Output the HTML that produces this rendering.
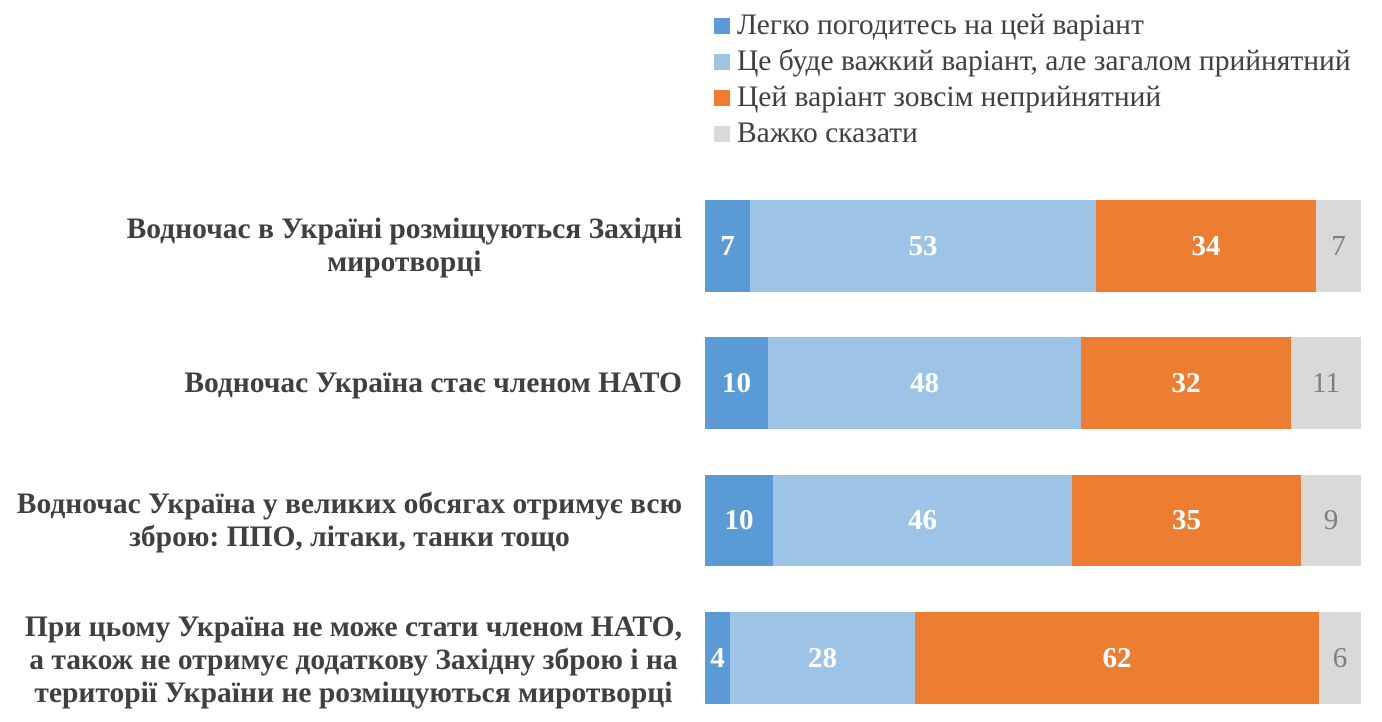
<!DOCTYPE html>
<html><head><meta charset="utf-8"><style>
body{margin:0;width:1382px;height:722px;background:#fff;position:relative;overflow:hidden;font-family:"Liberation Serif","DejaVu Serif",serif;}
.lg{position:absolute;left:714px;font-size:29.5px;color:#404040;white-space:nowrap;line-height:30px}
.lg i{display:inline-block;width:16px;height:16px;margin-right:7px;vertical-align:0px}
.seg{position:absolute;display:flex;align-items:center;justify-content:center;font-size:29px;font-weight:bold;color:#fff}
.lab{position:absolute;right:700px;text-align:center;font-size:29.5px;font-weight:bold;color:#404040;line-height:33px;white-space:nowrap}
</style></head><body>
<div class="lg" style="top:10px"><i style="background:#5B9BD5"></i>Легко погодитесь на цей варіант</div>
<div class="lg" style="top:46px"><i style="background:#9DC3E6"></i>Це буде важкий варіант, але загалом прийнятний</div>
<div class="lg" style="top:82px"><i style="background:#ED7D31"></i>Цей варіант зовсім неприйнятний</div>
<div class="lg" style="top:118px"><i style="background:#D9D9D9"></i>Важко сказати</div>

<div class="lab" style="top:213px">Водночас в Україні розміщуються Західні<br>миротворці</div>
<div class="seg" style="left:705px;width:45px;top:200px;height:92px;background:#5B9BD5">7</div>
<div class="seg" style="left:750px;width:346px;top:200px;height:92px;background:#9DC3E6">53</div>
<div class="seg" style="left:1096px;width:220px;top:200px;height:92px;background:#ED7D31">34</div>
<div class="seg" style="left:1316px;width:45px;top:200px;height:92px;background:#D9D9D9;color:#7f7f7f;font-weight:normal">7</div>

<div class="lab" style="top:367px">Водночас Україна стає членом НАТО</div>
<div class="seg" style="left:705px;width:63px;top:337px;height:92px;background:#5B9BD5">10</div>
<div class="seg" style="left:768px;width:313px;top:337px;height:92px;background:#9DC3E6">48</div>
<div class="seg" style="left:1081px;width:210px;top:337px;height:92px;background:#ED7D31">32</div>
<div class="seg" style="left:1291px;width:70px;top:337px;height:92px;background:#D9D9D9;color:#7f7f7f;font-weight:normal">11</div>

<div class="lab" style="top:488px">Водночас Україна у великих обсягах отримує всю<br>зброю: ППО, літаки, танки тощо</div>
<div class="seg" style="left:705px;width:68px;top:475px;height:91px;background:#5B9BD5">10</div>
<div class="seg" style="left:773px;width:299px;top:475px;height:91px;background:#9DC3E6">46</div>
<div class="seg" style="left:1072px;width:229px;top:475px;height:91px;background:#ED7D31">35</div>
<div class="seg" style="left:1301px;width:60px;top:475px;height:91px;background:#D9D9D9;color:#7f7f7f;font-weight:normal">9</div>

<div class="lab" style="top:611px">При цьому Україна не може стати членом НАТО,<br>а також не отримує додаткову Західну зброю і на<br>території України не розміщуються миротворці</div>
<div class="seg" style="left:705px;width:25px;top:612px;height:92px;background:#5B9BD5">4</div>
<div class="seg" style="left:730px;width:185px;top:612px;height:92px;background:#9DC3E6">28</div>
<div class="seg" style="left:915px;width:404px;top:612px;height:92px;background:#ED7D31">62</div>
<div class="seg" style="left:1319px;width:42px;top:612px;height:92px;background:#D9D9D9;color:#7f7f7f;font-weight:normal">6</div>
</body></html>
